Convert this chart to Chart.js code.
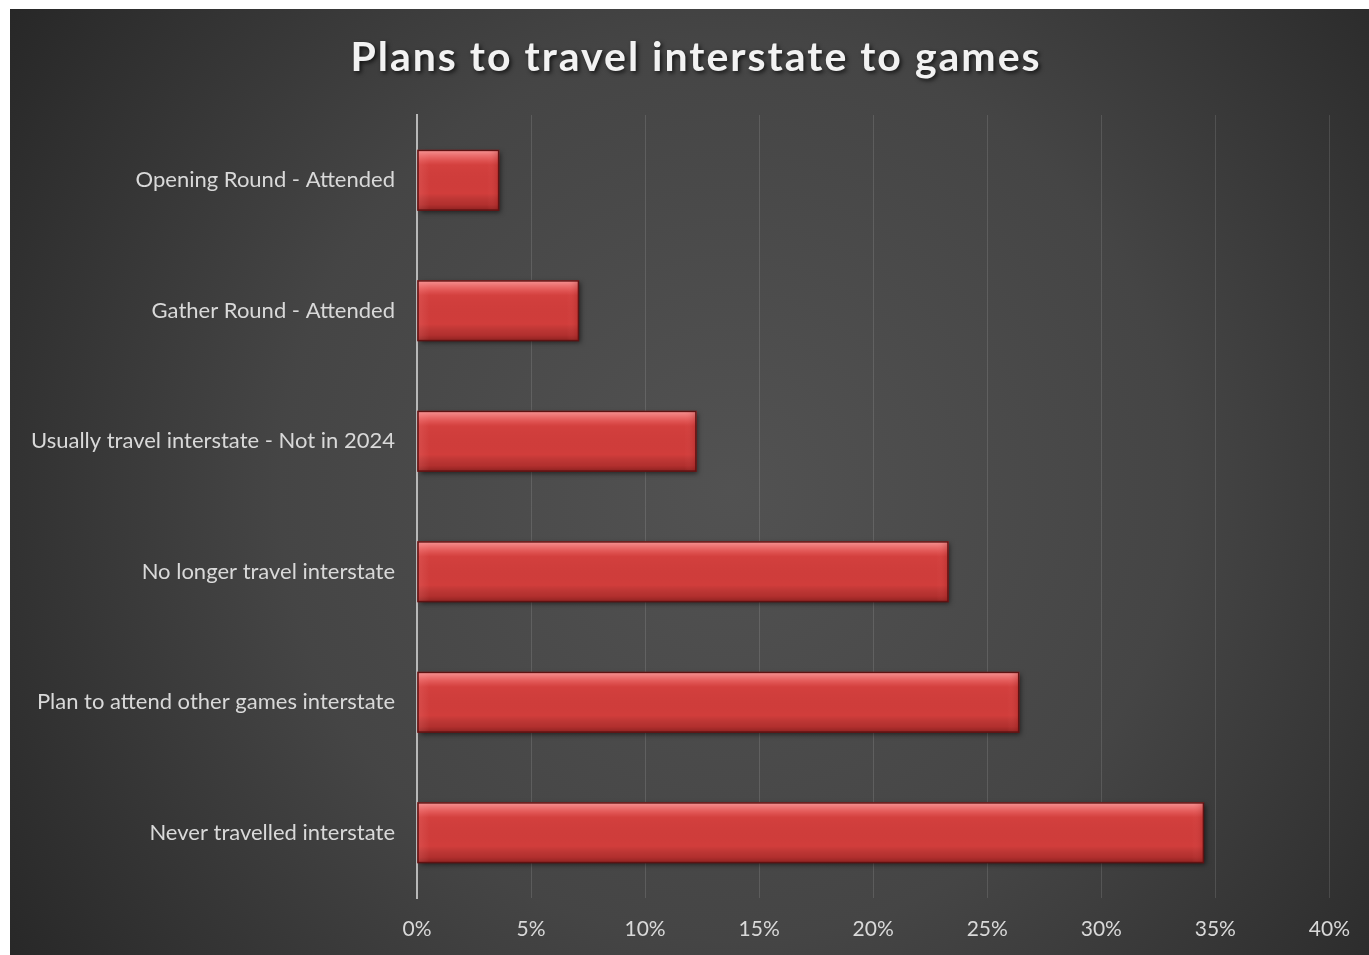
<!DOCTYPE html>
<html>
<head>
<meta charset="utf-8">
<title>Plans to travel interstate to games</title>
<script src="https://cdn.jsdelivr.net/npm/chart.js@4.4.1/dist/chart.umd.min.js"></script>
<style>
  html, body { margin: 0; padding: 0; background: #fff; }
  #wrap { position: absolute; left: 10px; top: 9px; width: 1359px; height: 946px; }
</style>
</head>
<body>
<div id="wrap"><canvas id="chart"></canvas></div>
<script>
  /* ── Data ─────────────────────────────────────────────────────────── */
  const TITLE = 'Plans to travel interstate to games';
  const CATEGORIES = [
    'Opening Round - Attended',
    'Gather Round - Attended',
    'Usually travel interstate - Not in 2024',
    'No longer travel interstate',
    'Plan to attend other games interstate',
    'Never travelled interstate'
  ];
  const SHARES = [3.6, 7.1, 12.25, 23.3, 26.4, 34.5];   // percent of respondents
  const X_MIN = 0, X_MAX = 40, X_STEP = 5;

  const FONT = 'Lato, "Open Sans", "DejaVu Sans", sans-serif';

  /* ── Dark radial backdrop ─────────────────────────────────────────── */
  const backdrop = {
    id: 'backdrop',
    beforeDraw(chart) {
      const { ctx, width, height } = chart;
      const g = ctx.createRadialGradient(720, 480, 0, 720, 480, 900);
      g.addColorStop(0, '#525252');
      g.addColorStop(0.5, '#454545');
      g.addColorStop(1, '#252525');
      ctx.save();
      ctx.fillStyle = g;
      ctx.fillRect(0, 0, width, height);
      ctx.restore();
    }
  };

  /* ── Drop shadow and bevel on the bars ────────────────────────────── */
  const barShadow = {
    id: 'barShadow',
    beforeDatasetsDraw(chart) {
      const ctx = chart.ctx;
      ctx.save();
      ctx.shadowColor = 'rgba(0,0,0,0.55)';
      ctx.shadowBlur = 5;
      ctx.shadowOffsetX = 2;
      ctx.shadowOffsetY = 2;
    },
    afterDatasetsDraw(chart) {
      chart.ctx.restore();
      const ctx = chart.ctx;
      chart.getDatasetMeta(0).data.forEach(el => {
        const p = el.getProps(['x', 'y', 'base', 'height'], true);
        const l = Math.min(p.x, p.base), r = Math.max(p.x, p.base);
        const t = p.y - p.height / 2, b = p.y + p.height / 2;
        const h = b - t;
        ctx.save();
        const v = ctx.createLinearGradient(0, t, 0, b);
        v.addColorStop(0, 'rgba(255,175,175,0.8)');
        v.addColorStop(0.12, 'rgba(255,140,140,0.5)');
        v.addColorStop(0.25, 'rgba(255,120,120,0.05)');
        v.addColorStop(0.72, 'rgba(0,0,0,0)');
        v.addColorStop(0.9, 'rgba(70,0,0,0.22)');
        v.addColorStop(1, 'rgba(50,0,0,0.45)');
        ctx.fillStyle = v;
        ctx.fillRect(l, t, r - l, h);
        // right-hand bevel
        const bw = Math.min(12, (r - l) / 4);
        const hr = ctx.createLinearGradient(r - bw, 0, r, 0);
        hr.addColorStop(0, 'rgba(255,120,120,0)');
        hr.addColorStop(1, 'rgba(120,10,10,0.25)');
        ctx.fillStyle = hr;
        ctx.fillRect(r - bw, t, bw, h);
        // left-hand bevel
        const hl = ctx.createLinearGradient(l, 0, l + bw, 0);
        hl.addColorStop(0, 'rgba(255,150,150,0.18)');
        hl.addColorStop(1, 'rgba(255,150,150,0)');
        ctx.fillStyle = hl;
        ctx.fillRect(l, t, bw, h);
        ctx.strokeStyle = '#5e1212';
        ctx.lineWidth = 1.5;
        ctx.strokeRect(l + 0.5, t + 0.5, r - l - 1, h - 1);
        ctx.restore();
      });
    }
  };

  /* ── Title with letter spacing and a soft shadow ──────────────────── */
  const shadowTitle = {
    id: 'shadowTitle',
    afterDraw(chart) {
      const ctx = chart.ctx;
      ctx.save();
      ctx.font = 'bold 41px ' + FONT;
      ctx.letterSpacing = '2px';
      ctx.textAlign = 'center';
      ctx.textBaseline = 'middle';
      ctx.shadowColor = 'rgba(0,0,0,0.7)';
      ctx.shadowBlur = 4;
      ctx.shadowOffsetX = 2;
      ctx.shadowOffsetY = 2;
      ctx.fillStyle = '#f2f2f2';
      ctx.fillText(TITLE, 686, 49);
      ctx.restore();
    }
  };

  new Chart(document.getElementById('chart'), {
    type: 'bar',
    data: {
      labels: CATEGORIES,
      datasets: [{
        data: SHARES,
        backgroundColor: '#d13d3b',
        borderWidth: 0,
        barPercentage: 0.465,
        categoryPercentage: 1
      }]
    },
    options: {
      indexAxis: 'y',
      responsive: true,
      maintainAspectRatio: false,
      animation: false,
      layout: { padding: { top: 106, right: 16, left: 0, bottom: 0 } },
      plugins: {
        legend: { display: false },
        title: { display: false },
        tooltip: { enabled: false }
      },
      scales: {
        x: {
          min: X_MIN,
          max: X_MAX,
          afterFit: s => { s.height = 57; },
          grid: {
            color: 'rgba(255,255,255,0.12)',
            lineWidth: 1,
            drawTicks: false
          },
          border: { display: false },
          ticks: {
            stepSize: X_STEP,
            padding: 19,
            color: '#d9d9d9',
            font: { family: FONT, size: 21 },
            callback: v => v + '%'
          }
        },
        y: {
          afterFit: s => { s.width = 407; },
          grid: { display: false, drawTicks: false },
          border: { display: true, color: '#b8b8b8', width: 2 },
          ticks: {
            padding: 22,
            color: '#d9d9d9',
            font: { family: FONT, size: 22 }
          }
        }
      }
    },
    plugins: [backdrop, barShadow, shadowTitle]
  });
</script>
</body>
</html>
